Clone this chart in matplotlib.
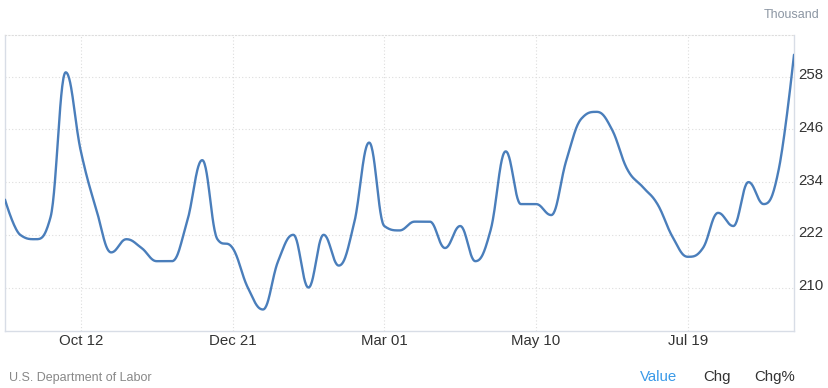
import numpy as np
import matplotlib
matplotlib.use("Agg")
import matplotlib.pyplot as plt
from matplotlib.transforms import ScaledTranslation

plt.rcParams['font.family'] = ['Liberation Sans', 'DejaVu Sans']

# Weekly initial jobless claims (thousand), week ending Sep 07 .. Sep 06
claims = [230, 222, 221, 226, 259, 241, 228, 218, 221, 219,
          216, 216, 225, 239, 221, 219, 210, 205, 216, 222,
          210, 222, 215, 224.5, 243, 224, 223, 225, 225, 219,
          224, 216, 223, 241, 229, 229, 226.5, 239, 248.5, 250,
          246, 237, 233, 229, 221.5, 217, 219, 227, 224, 234,
          229, 237, 263]
week = np.arange(len(claims))

x_tick_pos = [5, 15, 25, 35, 45]
x_tick_labels = ["Oct 12", "Dec 21", "Mar 01", "May 10", "Jul 19"]
y_ticks = [210, 222, 234, 246, 258]


def spline_xy(xs, ys, smoothing=1.5, n=30):
    # highcharts-like spline: bezier segments with collinear control points
    xs = np.asarray(xs, float)
    ys = np.asarray(ys, float)
    m = len(xs)
    lc = np.column_stack([xs, ys]).copy()
    rc = np.column_stack([xs, ys]).copy()
    den = smoothing + 1
    for i in range(1, m - 1):
        px, py = xs[i], ys[i]
        lx, ly = xs[i - 1], ys[i - 1]
        nx, ny = xs[i + 1], ys[i + 1]
        lcx = (smoothing * px + lx) / den
        lcy = (smoothing * py + ly) / den
        rcx = (smoothing * px + nx) / den
        rcy = (smoothing * py + ny) / den
        corr = (rcy - lcy) * (rcx - px) / (rcx - lcx) + py - rcy
        lcy += corr
        rcy += corr
        if lcy > ly and lcy > py:
            lcy = max(ly, py)
            rcy = 2 * py - lcy
        elif lcy < ly and lcy < py:
            lcy = min(ly, py)
            rcy = 2 * py - lcy
        if rcy > ny and rcy > py:
            rcy = max(ny, py)
            lcy = 2 * py - rcy
        elif rcy < ny and rcy < py:
            rcy = min(ny, py)
            lcy = 2 * py - rcy
        lc[i] = (lcx, lcy)
        rc[i] = (rcx, rcy)
    t = np.linspace(0, 1, n)[:, None]
    out = []
    for i in range(1, m):
        p0 = np.array([xs[i - 1], ys[i - 1]])
        p1 = rc[i - 1]
        p2 = lc[i]
        p3 = np.array([xs[i], ys[i]])
        seg = ((1 - t) ** 3) * p0 + 3 * ((1 - t) ** 2) * t * p1 + 3 * (1 - t) * t ** 2 * p2 + t ** 3 * p3
        out.append(seg if i == 1 else seg[1:])
    out = np.vstack(out)
    return out[:, 0], out[:, 1]


fig = plt.figure(figsize=(8.29, 3.88), dpi=100)
ax = fig.add_axes([5 / 829, 57 / 388, 789 / 829, 296 / 388])

sx, sy = spline_xy(week, claims)
ax.plot(sx, sy, color="#4a7ebb", linewidth=1.7, solid_capstyle="round", zorder=3)

ax.set_xlim(0, len(claims) - 1)
ax.set_ylim(200.1, 267.5)

ax.set_xticks(x_tick_pos)
ax.set_xticklabels(x_tick_labels)
ax.set_yticks(y_ticks)
ax.yaxis.tick_right()
ax.tick_params(axis="both", length=0, labelsize=10.8, colors="#333333")
ax.tick_params(axis="x", pad=2)
ax.tick_params(axis="y", pad=3)

# labels sit a few pixels above their gridlines
for lab in ax.get_yticklabels():
    lab.set_transform(lab.get_transform() + ScaledTranslation(0, 0.03, fig.dpi_scale_trans))

ax.grid(True, color="#dddddd", linestyle=(0, (1, 2)), linewidth=0.8)
for s in ["left", "right", "bottom"]:
    ax.spines[s].set_color("#d8dde6")
    ax.spines[s].set_linewidth(1.0)
ax.spines["top"].set_color("#dddddd")
ax.spines["top"].set_linestyle((0, (1, 2)))
ax.spines["top"].set_linewidth(0.8)

fig.text(819 / 829, 1 - 15 / 388, "Thousand", ha="right", va="center",
         fontsize=9, color="#8c96a3")
fig.text(9 / 829, 1 - 378 / 388, "U.S. Department of Labor", ha="left", va="center",
         fontsize=9, color="#888888")
fig.text(640 / 829, 1 - 377 / 388, "Value", ha="left", va="center",
         fontsize=10.8, color="#3a9ae8")
fig.text(703 / 829, 1 - 377 / 388, "Chg", ha="left", va="center",
         fontsize=10.8, color="#333333")
fig.text(754 / 829, 1 - 377 / 388, "Chg%", ha="left", va="center",
         fontsize=10.8, color="#333333")

fig.savefig("out.png", dpi=100)
